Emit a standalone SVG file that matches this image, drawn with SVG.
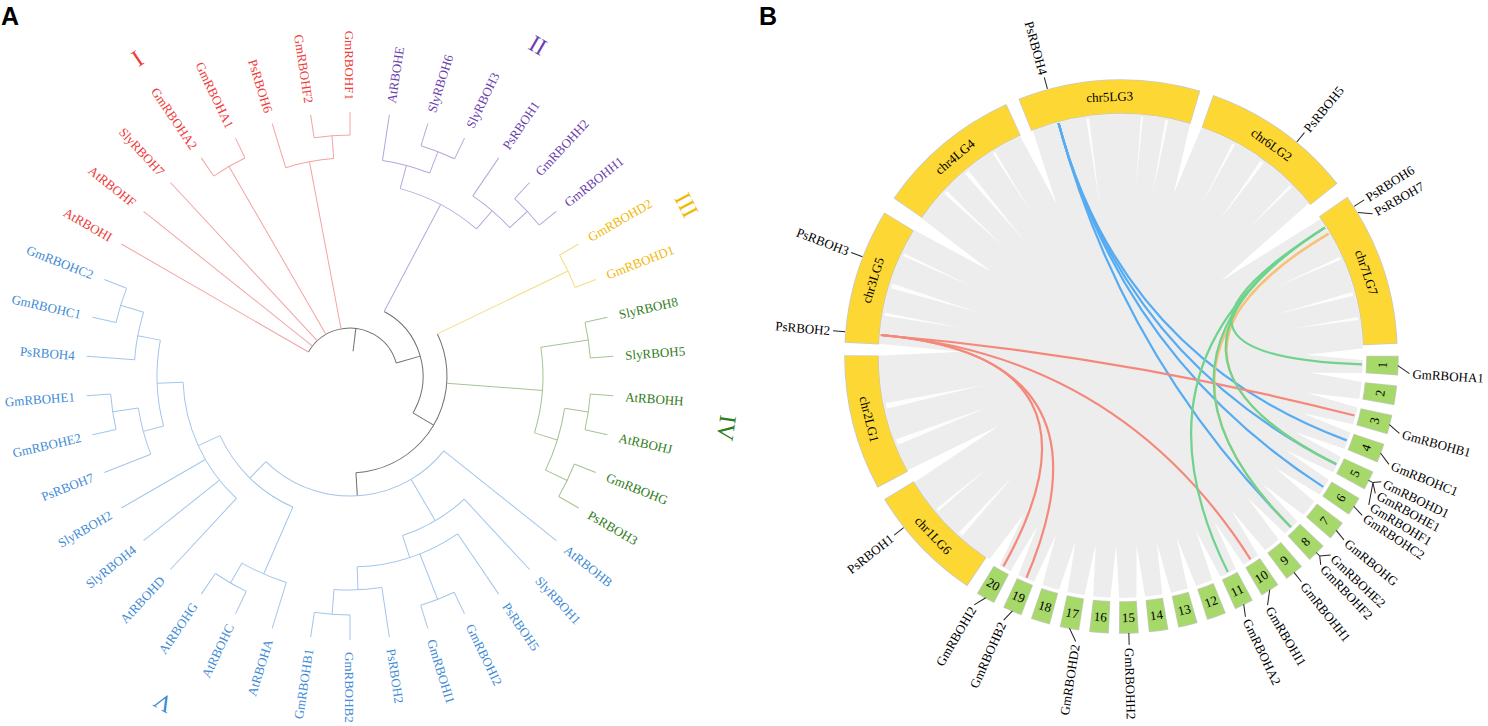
<svg xmlns="http://www.w3.org/2000/svg" width="1488" height="726" viewBox="0 0 1488 726">
<style>
.lab{font-family:"Liberation Serif","Times New Roman",serif;font-size:13px}
.num{font-family:"Liberation Serif","Times New Roman",serif;font-size:24px;text-anchor:middle}
.pan{font-family:"Liberation Sans",Arial,sans-serif;font-size:25px;font-weight:bold;fill:#000}
.s{text-anchor:start}
.e{text-anchor:end}
.m{text-anchor:middle}
.t line,.t circle{fill:none;stroke-width:1}
.k{stroke:#707070}
.r{stroke:#f4a3a3}
.p{stroke:#b8a5dc}
.y{stroke:#f3dc86}
.g{stroke:#a4c492}
.b{stroke:#a3c5ea}
.tr{fill:#ef3a3a}
.tp{fill:#6b3fae}
.ty{fill:#f2b705}
.tg{fill:#2f7c20}
.tb{fill:#3f8bd5}
.ol{fill:none;stroke:#c8c8c8;stroke-width:34.6}
.cy{fill:none;stroke:#fdd835;stroke-width:33}
.olb{fill:none;stroke:#c8c8c8;stroke-width:32.5}
.bx{fill:none;stroke:#a6d96a;stroke-width:31}
.wg{fill:#ffffff}
.ws{fill:#ffffff;opacity:0.85}
.lk{fill:none;stroke-width:2.2}
.lb{stroke:#56acf2}
.lr{stroke:#f4897b}
.lg{stroke:#6fd38d}
.lo{stroke:#f7c277}
.tk{fill:none;stroke:#222;stroke-width:1}
</style>

<text class="pan" x="1" y="25">A</text>
<text class="pan" x="759" y="25">B</text>

<!-- ================= PANEL A ================= -->
<g id="panelA" transform="translate(350,376)">
<g id="tree-connectors" class="t">
<line class="k" y1="-25" y2="-48" transform="rotate(7)"/>
<circle class="k" r="48" pathLength="360" stroke-dasharray="134.2 360" transform="rotate(-150)"/>
<line class="k" y1="-48" y2="-73" transform="rotate(74.2)"/>
<circle class="k" r="73" pathLength="360" stroke-dasharray="92.5 360" transform="rotate(-62.1)"/>
<line class="k" y1="-73" y2="-97" transform="rotate(120.4)"/>
<circle class="k" r="97" pathLength="360" stroke-dasharray="112.2 360" transform="rotate(-25.7)"/>
<line class="k" y1="-97" y2="-120" transform="rotate(176.5)"/>
<line class="r" y1="-48" y2="-264" transform="rotate(-60)"/>
<line class="r" y1="-48" y2="-264" transform="rotate(-51.43)"/>
<line class="r" y1="-48" y2="-264" transform="rotate(-42.86)"/>
<line class="r" y1="-48" y2="-242" transform="rotate(-30)"/>
<circle class="r" r="242" pathLength="360" stroke-dasharray="8.58 360" transform="rotate(-124.29)"/>
<line class="r" y1="-242" y2="-264" transform="rotate(-34.29)"/>
<line class="r" y1="-242" y2="-264" transform="rotate(-25.71)"/>
<line class="r" y1="-48" y2="-218" transform="rotate(-10.71)"/>
<circle class="r" r="218" pathLength="360" stroke-dasharray="12.85 360" transform="rotate(-107.14)"/>
<line class="r" y1="-218" y2="-264" transform="rotate(-17.14)"/>
<line class="r" y1="-218" y2="-241" transform="rotate(-4.29)"/>
<circle class="r" r="241" pathLength="360" stroke-dasharray="8.57 360" transform="rotate(-98.57)"/>
<line class="r" y1="-241" y2="-264" transform="rotate(-8.57)"/>
<line class="r" y1="-241" y2="-264" transform="rotate(0)"/>
<line class="p" y1="-73" y2="-194" transform="rotate(27.86)"/>
<circle class="p" r="194" pathLength="360" stroke-dasharray="25.71 360" transform="rotate(-75)"/>
<line class="p" y1="-194" y2="-218" transform="rotate(15)"/>
<circle class="p" r="218" pathLength="360" stroke-dasharray="12.86 360" transform="rotate(-81.43)"/>
<line class="p" y1="-218" y2="-264" transform="rotate(8.57)"/>
<line class="p" y1="-218" y2="-241" transform="rotate(21.43)"/>
<circle class="p" r="241" pathLength="360" stroke-dasharray="8.57 360" transform="rotate(-72.86)"/>
<line class="p" y1="-241" y2="-264" transform="rotate(17.14)"/>
<line class="p" y1="-241" y2="-264" transform="rotate(25.71)"/>
<line class="p" y1="-194" y2="-218" transform="rotate(40.71)"/>
<circle class="p" r="218" pathLength="360" stroke-dasharray="12.85 360" transform="rotate(-55.71)"/>
<line class="p" y1="-218" y2="-264" transform="rotate(34.29)"/>
<line class="p" y1="-218" y2="-242" transform="rotate(47.14)"/>
<circle class="p" r="242" pathLength="360" stroke-dasharray="8.57 360" transform="rotate(-47.14)"/>
<line class="p" y1="-242" y2="-264" transform="rotate(42.86)"/>
<line class="p" y1="-242" y2="-264" transform="rotate(51.43)"/>
<line class="y" y1="-97" y2="-242" transform="rotate(64.29)"/>
<circle class="y" r="242" pathLength="360" stroke-dasharray="8.57 360" transform="rotate(-30)"/>
<line class="y" y1="-242" y2="-264" transform="rotate(60)"/>
<line class="y" y1="-242" y2="-264" transform="rotate(68.57)"/>
<line class="g" y1="-97" y2="-193" transform="rotate(94.29)"/>
<circle class="g" r="193" pathLength="360" stroke-dasharray="25.71 360" transform="rotate(-8.57)"/>
<line class="g" y1="-193" y2="-241" transform="rotate(81.43)"/>
<circle class="g" r="241" pathLength="360" stroke-dasharray="8.57 360" transform="rotate(-12.86)"/>
<line class="g" y1="-241" y2="-264" transform="rotate(77.14)"/>
<line class="g" y1="-241" y2="-264" transform="rotate(85.71)"/>
<line class="g" y1="-193" y2="-217" transform="rotate(107.14)"/>
<circle class="g" r="217" pathLength="360" stroke-dasharray="17.14 360" transform="rotate(8.57)"/>
<line class="g" y1="-217" y2="-241" transform="rotate(98.57)"/>
<circle class="g" r="241" pathLength="360" stroke-dasharray="8.57 360" transform="rotate(4.29)"/>
<line class="g" y1="-241" y2="-264" transform="rotate(94.29)"/>
<line class="g" y1="-241" y2="-264" transform="rotate(102.86)"/>
<line class="g" y1="-217" y2="-241" transform="rotate(115.71)"/>
<circle class="g" r="241" pathLength="360" stroke-dasharray="8.57 360" transform="rotate(21.43)"/>
<line class="g" y1="-241" y2="-264" transform="rotate(111.43)"/>
<line class="g" y1="-241" y2="-264" transform="rotate(120)"/>
<circle class="b" r="120" pathLength="360" stroke-dasharray="95.89 360" transform="rotate(38.57)"/>
<line class="b" y1="-120" y2="-264" transform="rotate(128.57)"/>
<line class="b" y1="-120" y2="-168" transform="rotate(149.46)"/>
<circle class="b" r="168" pathLength="360" stroke-dasharray="24.65 360" transform="rotate(47.14)"/>
<line class="b" y1="-168" y2="-264" transform="rotate(137.14)"/>
<line class="b" y1="-168" y2="-191" transform="rotate(161.79)"/>
<circle class="b" r="191" pathLength="360" stroke-dasharray="32.15 360" transform="rotate(55.71)"/>
<line class="b" y1="-191" y2="-264" transform="rotate(145.71)"/>
<line class="b" y1="-191" y2="-240" transform="rotate(158.57)"/>
<circle class="b" r="240" pathLength="360" stroke-dasharray="8.57 360" transform="rotate(64.29)"/>
<line class="b" y1="-240" y2="-264" transform="rotate(154.29)"/>
<line class="b" y1="-240" y2="-264" transform="rotate(162.86)"/>
<line class="b" y1="-191" y2="-214" transform="rotate(177.86)"/>
<circle class="b" r="214" pathLength="360" stroke-dasharray="12.86 360" transform="rotate(81.43)"/>
<line class="b" y1="-214" y2="-264" transform="rotate(171.43)"/>
<line class="b" y1="-214" y2="-239" transform="rotate(184.29)"/>
<circle class="b" r="239" pathLength="360" stroke-dasharray="8.57 360" transform="rotate(90)"/>
<line class="b" y1="-239" y2="-264" transform="rotate(180)"/>
<line class="b" y1="-239" y2="-264" transform="rotate(188.57)"/>
<line class="b" y1="-120" y2="-143" transform="rotate(224.46)"/>
<circle class="b" r="143" pathLength="360" stroke-dasharray="41.79 360" transform="rotate(113.57)"/>
<line class="b" y1="-143" y2="-216" transform="rotate(203.57)"/>
<circle class="b" r="216" pathLength="360" stroke-dasharray="12.86 360" transform="rotate(107.14)"/>
<line class="b" y1="-216" y2="-264" transform="rotate(197.14)"/>
<line class="b" y1="-216" y2="-239" transform="rotate(210)"/>
<circle class="b" r="239" pathLength="360" stroke-dasharray="8.58 360" transform="rotate(115.71)"/>
<line class="b" y1="-239" y2="-264" transform="rotate(205.71)"/>
<line class="b" y1="-239" y2="-264" transform="rotate(214.29)"/>
<line class="b" y1="-143" y2="-167" transform="rotate(245.36)"/>
<circle class="b" r="167" pathLength="360" stroke-dasharray="45 360" transform="rotate(132.86)"/>
<line class="b" y1="-167" y2="-264" transform="rotate(222.86)"/>
<line class="b" y1="-167" y2="-264" transform="rotate(231.43)"/>
<line class="b" y1="-167" y2="-264" transform="rotate(240)"/>
<line class="b" y1="-167" y2="-193" transform="rotate(267.86)"/>
<circle class="b" r="193" pathLength="360" stroke-dasharray="25.71 360" transform="rotate(165)"/>
<line class="b" y1="-193" y2="-214" transform="rotate(255)"/>
<circle class="b" r="214" pathLength="360" stroke-dasharray="12.86 360" transform="rotate(158.57)"/>
<line class="b" y1="-214" y2="-264" transform="rotate(248.57)"/>
<line class="b" y1="-214" y2="-240" transform="rotate(261.43)"/>
<circle class="b" r="240" pathLength="360" stroke-dasharray="8.57 360" transform="rotate(167.14)"/>
<line class="b" y1="-240" y2="-264" transform="rotate(257.14)"/>
<line class="b" y1="-240" y2="-264" transform="rotate(265.71)"/>
<line class="b" y1="-193" y2="-216" transform="rotate(280.71)"/>
<circle class="b" r="216" pathLength="360" stroke-dasharray="12.85 360" transform="rotate(184.29)"/>
<line class="b" y1="-216" y2="-264" transform="rotate(274.29)"/>
<line class="b" y1="-216" y2="-240" transform="rotate(287.14)"/>
<circle class="b" r="240" pathLength="360" stroke-dasharray="8.57 360" transform="rotate(192.86)"/>
<line class="b" y1="-240" y2="-264" transform="rotate(282.86)"/>
<line class="b" y1="-240" y2="-264" transform="rotate(291.43)"/>
</g>

<g id="leaf-labels" class="lab">
<text id="leaf-GmRBOHF1" class="tr e" dy="0.35em" transform="rotate(0) translate(0,-276) rotate(90)">GmRBOHF1</text>
<text id="leaf-AtRBOHE" class="tp s" dy="0.35em" transform="rotate(8.57) translate(0,-276) rotate(-90)">AtRBOHE</text>
<text id="leaf-SlyRBOH6" class="tp s" dy="0.35em" transform="rotate(17.14) translate(0,-276) rotate(-90)">SlyRBOH6</text>
<text id="leaf-SlyRBOH3" class="tp s" dy="0.35em" transform="rotate(25.71) translate(0,-276) rotate(-90)">SlyRBOH3</text>
<text id="leaf-PsRBOH1" class="tp s" dy="0.35em" transform="rotate(34.29) translate(0,-276) rotate(-90)">PsRBOH1</text>
<text id="leaf-GmRBOHH2" class="tp s" dy="0.35em" transform="rotate(42.86) translate(0,-276) rotate(-90)">GmRBOHH2</text>
<text id="leaf-GmRBOHH1" class="tp s" dy="0.35em" transform="rotate(51.43) translate(0,-276) rotate(-90)">GmRBOHH1</text>
<text id="leaf-GmRBOHD2" class="ty s" dy="0.35em" transform="rotate(60) translate(0,-276) rotate(-90)">GmRBOHD2</text>
<text id="leaf-GmRBOHD1" class="ty s" dy="0.35em" transform="rotate(68.57) translate(0,-276) rotate(-90)">GmRBOHD1</text>
<text id="leaf-SlyRBOH8" class="tg s" dy="0.35em" transform="rotate(77.14) translate(0,-276) rotate(-90)">SlyRBOH8</text>
<text id="leaf-SlyRBOH5" class="tg s" dy="0.35em" transform="rotate(85.71) translate(0,-276) rotate(-90)">SlyRBOH5</text>
<text id="leaf-AtRBOHH" class="tg s" dy="0.35em" transform="rotate(94.29) translate(0,-276) rotate(-90)">AtRBOHH</text>
<text id="leaf-AtRBOHJ" class="tg s" dy="0.35em" transform="rotate(102.86) translate(0,-276) rotate(-90)">AtRBOHJ</text>
<text id="leaf-GmRBOHG" class="tg s" dy="0.35em" transform="rotate(111.43) translate(0,-276) rotate(-90)">GmRBOHG</text>
<text id="leaf-PsRBOH3" class="tg s" dy="0.35em" transform="rotate(120) translate(0,-276) rotate(-90)">PsRBOH3</text>
<text id="leaf-AtRBOHB" class="tb s" dy="0.35em" transform="rotate(128.57) translate(0,-276) rotate(-90)">AtRBOHB</text>
<text id="leaf-SlyRBOH1" class="tb s" dy="0.35em" transform="rotate(137.14) translate(0,-276) rotate(-90)">SlyRBOH1</text>
<text id="leaf-PsRBOH5" class="tb s" dy="0.35em" transform="rotate(145.71) translate(0,-276) rotate(-90)">PsRBOH5</text>
<text id="leaf-GmRBOHI2" class="tb s" dy="0.35em" transform="rotate(154.29) translate(0,-276) rotate(-90)">GmRBOHI2</text>
<text id="leaf-GmRBOHI1" class="tb s" dy="0.35em" transform="rotate(162.86) translate(0,-276) rotate(-90)">GmRBOHI1</text>
<text id="leaf-PsRBOH2" class="tb s" dy="0.35em" transform="rotate(171.43) translate(0,-276) rotate(-90)">PsRBOH2</text>
<text id="leaf-GmRBOHB2" class="tb s" dy="0.35em" transform="rotate(180) translate(0,-276) rotate(-90)">GmRBOHB2</text>
<text id="leaf-GmRBOHB1" class="tb e" dy="0.35em" transform="rotate(188.57) translate(0,-276) rotate(90)">GmRBOHB1</text>
<text id="leaf-AtRBOHA" class="tb e" dy="0.35em" transform="rotate(197.14) translate(0,-276) rotate(90)">AtRBOHA</text>
<text id="leaf-AtRBOHC" class="tb e" dy="0.35em" transform="rotate(205.71) translate(0,-276) rotate(90)">AtRBOHC</text>
<text id="leaf-AtRBOHG" class="tb e" dy="0.35em" transform="rotate(214.29) translate(0,-276) rotate(90)">AtRBOHG</text>
<text id="leaf-AtRBOHD" class="tb e" dy="0.35em" transform="rotate(222.86) translate(0,-276) rotate(90)">AtRBOHD</text>
<text id="leaf-SlyRBOH4" class="tb e" dy="0.35em" transform="rotate(231.43) translate(0,-276) rotate(90)">SlyRBOH4</text>
<text id="leaf-SlyRBOH2" class="tb e" dy="0.35em" transform="rotate(240) translate(0,-276) rotate(90)">SlyRBOH2</text>
<text id="leaf-PsRBOH7" class="tb e" dy="0.35em" transform="rotate(248.57) translate(0,-276) rotate(90)">PsRBOH7</text>
<text id="leaf-GmRBOHE2" class="tb e" dy="0.35em" transform="rotate(257.14) translate(0,-276) rotate(90)">GmRBOHE2</text>
<text id="leaf-GmRBOHE1" class="tb e" dy="0.35em" transform="rotate(265.71) translate(0,-276) rotate(90)">GmRBOHE1</text>
<text id="leaf-PsRBOH4" class="tb e" dy="0.35em" transform="rotate(274.29) translate(0,-276) rotate(90)">PsRBOH4</text>
<text id="leaf-GmRBOHC1" class="tb e" dy="0.35em" transform="rotate(282.86) translate(0,-276) rotate(90)">GmRBOHC1</text>
<text id="leaf-GmRBOHC2" class="tb e" dy="0.35em" transform="rotate(291.43) translate(0,-276) rotate(90)">GmRBOHC2</text>
<text id="leaf-AtRBOHI" class="tr e" dy="0.35em" transform="rotate(300) translate(0,-276) rotate(90)">AtRBOHI</text>
<text id="leaf-AtRBOHF" class="tr e" dy="0.35em" transform="rotate(308.57) translate(0,-276) rotate(90)">AtRBOHF</text>
<text id="leaf-SlyRBOH7" class="tr e" dy="0.35em" transform="rotate(317.14) translate(0,-276) rotate(90)">SlyRBOH7</text>
<text id="leaf-GmRBOHA2" class="tr e" dy="0.35em" transform="rotate(325.71) translate(0,-276) rotate(90)">GmRBOHA2</text>
<text id="leaf-GmRBOHA1" class="tr e" dy="0.35em" transform="rotate(334.29) translate(0,-276) rotate(90)">GmRBOHA1</text>
<text id="leaf-PsRBOH6" class="tr e" dy="0.35em" transform="rotate(342.86) translate(0,-276) rotate(90)">PsRBOH6</text>
<text id="leaf-GmRBOHF2" class="tr e" dy="0.35em" transform="rotate(351.43) translate(0,-276) rotate(90)">GmRBOHF2</text>
</g>
</g>

<g id="group-labels">
<text class="num tr" x="137" y="58" dy="0.35em" transform="rotate(-34 137 58)">I</text>
<text class="num tp" x="538" y="45" dy="0.35em" transform="rotate(30 538 45)">II</text>
<text class="num ty" x="687" y="205" dy="0.35em" transform="rotate(63 687 205)">III</text>
<text class="num tg" x="727" y="428" dy="0.35em" transform="rotate(98 727 428)">IV</text>
<text class="num tb" x="163" y="703" dy="0.35em" transform="rotate(209.5 163 703)">V</text>
</g>

<!-- ================= PANEL B ================= -->
<g id="ribbons" transform="translate(1121,356)">
<circle r="242" fill="#ededed"/>
<path class="wg" d="M-7,-243L7,-243L0,-165Z" transform="rotate(337)"/>
<path class="wg" d="M-7,-243L7,-243L0,-155Z" transform="rotate(303)"/>
<path class="wg" d="M-6,-243L6,-243L0,-170Z" transform="rotate(18)"/>
<path class="wg" d="M-10,-243L10,-243L0,-125Z" transform="rotate(53.2)"/>
<path class="wg" d="M-6,-243L6,-243L0,-185Z" transform="rotate(89.6)"/>
<path class="wg" d="M-6,-243L6,-243L0,-185Z" transform="rotate(211.5)"/>
<path class="wg" d="M-7,-243L7,-243L0,-140Z" transform="rotate(240.2)"/>
<path class="wg" d="M-6,-243L6,-243L0,-160Z" transform="rotate(271.5)"/>
<path class="wg" d="M-4.5,-243L4.5,-243L0,-190Z" transform="rotate(95.09)"/>
<path class="wg" d="M-4.5,-243L4.5,-243L0,-190Z" transform="rotate(101.26)"/>
<path class="wg" d="M-4.5,-243L4.5,-243L0,-190Z" transform="rotate(107.43)"/>
<path class="wg" d="M-4.5,-243L4.5,-243L0,-190Z" transform="rotate(113.6)"/>
<path class="wg" d="M-4.5,-243L4.5,-243L0,-190Z" transform="rotate(119.77)"/>
<path class="wg" d="M-4.5,-243L4.5,-243L0,-190Z" transform="rotate(125.94)"/>
<path class="wg" d="M-4.5,-243L4.5,-243L0,-190Z" transform="rotate(132.11)"/>
<path class="wg" d="M-4.5,-243L4.5,-243L0,-190Z" transform="rotate(138.28)"/>
<path class="wg" d="M-4.5,-243L4.5,-243L0,-190Z" transform="rotate(144.45)"/>
<path class="wg" d="M-4.5,-243L4.5,-243L0,-190Z" transform="rotate(150.62)"/>
<path class="wg" d="M-4.5,-243L4.5,-243L0,-190Z" transform="rotate(156.79)"/>
<path class="wg" d="M-4.5,-243L4.5,-243L0,-190Z" transform="rotate(162.96)"/>
<path class="wg" d="M-4.5,-243L4.5,-243L0,-190Z" transform="rotate(169.13)"/>
<path class="wg" d="M-4.5,-243L4.5,-243L0,-190Z" transform="rotate(175.3)"/>
<path class="wg" d="M-4.5,-243L4.5,-243L0,-190Z" transform="rotate(181.47)"/>
<path class="wg" d="M-4.5,-243L4.5,-243L0,-190Z" transform="rotate(187.64)"/>
<path class="wg" d="M-4.5,-243L4.5,-243L0,-190Z" transform="rotate(193.81)"/>
<path class="wg" d="M-4.5,-243L4.5,-243L0,-190Z" transform="rotate(199.98)"/>
<path class="wg" d="M-4.5,-243L4.5,-243L0,-190Z" transform="rotate(206.15)"/>
<path class="ws" d="M-1.5,-240L1.5,-240L0,-150Z" transform="rotate(-8)"/>
<path class="ws" d="M-1,-240L1,-240L0,-170Z" transform="rotate(5)"/>
<path class="ws" d="M-1.5,-240L1.5,-240L0,-160Z" transform="rotate(11)"/>
<path class="ws" d="M-1.5,-240L1.5,-240L0,-175Z" transform="rotate(28)"/>
<path class="ws" d="M-2,-240L2,-240L0,-165Z" transform="rotate(36)"/>
<path class="ws" d="M-1.5,-240L1.5,-240L0,-180Z" transform="rotate(45)"/>
<path class="ws" d="M-1.5,-240L1.5,-240L0,-170Z" transform="rotate(66)"/>
<path class="ws" d="M-2,-240L2,-240L0,-160Z" transform="rotate(75)"/>
<path class="ws" d="M-1.5,-240L1.5,-240L0,-175Z" transform="rotate(81)"/>
<path class="ws" d="M-2.5,-240L2.5,-240L0,-160Z" transform="rotate(222)"/>
<path class="ws" d="M-1.5,-240L1.5,-240L0,-170Z" transform="rotate(230)"/>
<path class="ws" d="M-3,-240L3,-240L0,-140Z" transform="rotate(249)"/>
<path class="ws" d="M-3,-240L3,-240L0,-140Z" transform="rotate(258)"/>
<path class="ws" d="M-1.5,-240L1.5,-240L0,-160Z" transform="rotate(280)"/>
<path class="ws" d="M-2.5,-240L2.5,-240L0,-150Z" transform="rotate(287)"/>
<path class="ws" d="M-1.5,-240L1.5,-240L0,-165Z" transform="rotate(295)"/>
<path class="ws" d="M-2,-240L2,-240L0,-160Z" transform="rotate(313)"/>
<path class="ws" d="M-2.5,-240L2.5,-240L0,-150Z" transform="rotate(320)"/>
<path class="ws" d="M-1.5,-240L1.5,-240L0,-170Z" transform="rotate(328)"/>
</g>

<g id="links">
<path class="lk lb" d="M1058.6,123.2 Q1121,356 1346.7,440.4"/>
<path class="lk lb" d="M1058.6,123.2 Q1121,356 1336.3,464.3"/>
<path class="lk lb" d="M1058.6,123.2 Q1121,356 1323.3,486.9"/>
<path class="lk lb" d="M1058.6,123.2 Q1121,356 1290.8,527.0"/>
<path class="lk lr" d="M880.9,335 Q1121,356 1354.5,415.5"/>
<path class="lk lr" d="M880.9,335 Q1121,356 1250.5,559.3"/>
<path class="lk lr" d="M880.9,335 Q1121,356 1026.5,577.7"/>
<path class="lk lr" d="M880.9,335 Q1121,356 1003.4,566.4"/>
<path class="lk lo" d="M1328.6,233.7 Q1121,356 1336.3,464.3"/>
<path class="lk lo" d="M1328.6,233.7 Q1121,356 1290.8,527.0"/>
<path class="lk lg" d="M1324.9,227.6 Q1121,356 1361.9,364.4"/>
<path class="lk lg" d="M1324.9,227.6 Q1121,356 1336.3,464.3"/>
<path class="lk lg" d="M1324.9,227.6 Q1121,356 1290.8,527.0"/>
<path class="lk lg" d="M1324.9,227.6 Q1121,356 1227.8,572.1"/>
</g>

<g id="chromosomes" transform="translate(1121,356)" class="lab">
<g id="chr5LG3"><circle class="ol" r="259.5" pathLength="360" stroke-dasharray="38.4 360" transform="rotate(-111.75)"/><circle class="cy" r="259.5" pathLength="360" stroke-dasharray="38.1 360" transform="rotate(-111.6)"/><text class="m" dy="0.35em" transform="rotate(-2.5) translate(0,-259.5)">chr5LG3</text></g>
<g id="chr6LG2"><circle class="ol" r="259.5" pathLength="360" stroke-dasharray="32 360" transform="rotate(-70.55)"/><circle class="cy" r="259.5" pathLength="360" stroke-dasharray="31.7 360" transform="rotate(-70.4)"/><text class="m" dy="0.35em" transform="rotate(35.5) translate(0,-259.5)">chr6LG2</text></g>
<g id="chr7LG7"><circle class="ol" r="259.5" pathLength="360" stroke-dasharray="32.6 360" transform="rotate(-35.15)"/><circle class="cy" r="259.5" pathLength="360" stroke-dasharray="32.3 360" transform="rotate(-35)"/><text class="m" dy="0.35em" transform="rotate(71.2) translate(0,-259.5)">chr7LG7</text></g>
<g id="chr1LG6"><circle class="ol" r="259.5" pathLength="360" stroke-dasharray="25.1 360" transform="rotate(123.75)"/><circle class="cy" r="259.5" pathLength="360" stroke-dasharray="24.8 360" transform="rotate(123.9)"/><text class="m" dy="0.35em" transform="rotate(226.3) translate(0,-259.5) rotate(180)">chr1LG6</text></g>
<g id="chr2LG1"><circle class="ol" r="259.5" pathLength="360" stroke-dasharray="28.6 360" transform="rotate(151.55)"/><circle class="cy" r="259.5" pathLength="360" stroke-dasharray="28.3 360" transform="rotate(151.7)"/><text class="m" dy="0.35em" transform="rotate(255.9) translate(0,-259.5) rotate(180)">chr2LG1</text></g>
<g id="chr3LG5"><circle class="ol" r="259.5" pathLength="360" stroke-dasharray="28.5 360" transform="rotate(182.75)"/><circle class="cy" r="259.5" pathLength="360" stroke-dasharray="28.2 360" transform="rotate(182.9)"/><text class="m" dy="0.35em" transform="rotate(287) translate(0,-259.5)">chr3LG5</text></g>
<g id="chr4LG4"><circle class="ol" r="259.5" pathLength="360" stroke-dasharray="30.8 360" transform="rotate(214.75)"/><circle class="cy" r="259.5" pathLength="360" stroke-dasharray="30.5 360" transform="rotate(214.9)"/><text class="m" dy="0.35em" transform="rotate(320.2) translate(0,-259.5)">chr4LG4</text></g>
</g>

<g id="scaffolds" transform="translate(1121,356)" class="lab">
<g id="s1"><circle class="olb" r="261.5" pathLength="360" stroke-dasharray="4.1 360" transform="rotate(-0.05)"/><circle class="bx" r="261.5" pathLength="360" stroke-dasharray="3.8 360" transform="rotate(0.1)"/><text class="m" dy="0.35em" transform="rotate(92) translate(0,-261.5) rotate(180)">1</text></g>
<g id="s2"><circle class="olb" r="261.5" pathLength="360" stroke-dasharray="4.1 360" transform="rotate(6.12)"/><circle class="bx" r="261.5" pathLength="360" stroke-dasharray="3.8 360" transform="rotate(6.27)"/><text class="m" dy="0.35em" transform="rotate(98.17) translate(0,-261.5) rotate(180)">2</text></g>
<g id="s3"><circle class="olb" r="261.5" pathLength="360" stroke-dasharray="4.1 360" transform="rotate(12.29)"/><circle class="bx" r="261.5" pathLength="360" stroke-dasharray="3.8 360" transform="rotate(12.44)"/><text class="m" dy="0.35em" transform="rotate(104.34) translate(0,-261.5) rotate(180)">3</text></g>
<g id="s4"><circle class="olb" r="261.5" pathLength="360" stroke-dasharray="4.1 360" transform="rotate(18.46)"/><circle class="bx" r="261.5" pathLength="360" stroke-dasharray="3.8 360" transform="rotate(18.61)"/><text class="m" dy="0.35em" transform="rotate(110.51) translate(0,-261.5) rotate(180)">4</text></g>
<g id="s5"><circle class="olb" r="261.5" pathLength="360" stroke-dasharray="4.1 360" transform="rotate(24.63)"/><circle class="bx" r="261.5" pathLength="360" stroke-dasharray="3.8 360" transform="rotate(24.78)"/><text class="m" dy="0.35em" transform="rotate(116.68) translate(0,-261.5) rotate(180)">5</text></g>
<g id="s6"><circle class="olb" r="261.5" pathLength="360" stroke-dasharray="4.1 360" transform="rotate(30.8)"/><circle class="bx" r="261.5" pathLength="360" stroke-dasharray="3.8 360" transform="rotate(30.95)"/><text class="m" dy="0.35em" transform="rotate(122.85) translate(0,-261.5) rotate(180)">6</text></g>
<g id="s7"><circle class="olb" r="261.5" pathLength="360" stroke-dasharray="4.1 360" transform="rotate(36.97)"/><circle class="bx" r="261.5" pathLength="360" stroke-dasharray="3.8 360" transform="rotate(37.12)"/><text class="m" dy="0.35em" transform="rotate(129.02) translate(0,-261.5) rotate(180)">7</text></g>
<g id="s8"><circle class="olb" r="261.5" pathLength="360" stroke-dasharray="4.1 360" transform="rotate(43.14)"/><circle class="bx" r="261.5" pathLength="360" stroke-dasharray="3.8 360" transform="rotate(43.29)"/><text class="m" dy="0.35em" transform="rotate(135.19) translate(0,-261.5) rotate(180)">8</text></g>
<g id="s9"><circle class="olb" r="261.5" pathLength="360" stroke-dasharray="4.1 360" transform="rotate(49.31)"/><circle class="bx" r="261.5" pathLength="360" stroke-dasharray="3.8 360" transform="rotate(49.46)"/><text class="m" dy="0.35em" transform="rotate(141.36) translate(0,-261.5) rotate(180)">9</text></g>
<g id="s10"><circle class="olb" r="261.5" pathLength="360" stroke-dasharray="4.1 360" transform="rotate(55.48)"/><circle class="bx" r="261.5" pathLength="360" stroke-dasharray="3.8 360" transform="rotate(55.63)"/><text class="m" dy="0.35em" transform="rotate(147.53) translate(0,-261.5) rotate(180)">10</text></g>
<g id="s11"><circle class="olb" r="261.5" pathLength="360" stroke-dasharray="4.1 360" transform="rotate(61.65)"/><circle class="bx" r="261.5" pathLength="360" stroke-dasharray="3.8 360" transform="rotate(61.8)"/><text class="m" dy="0.35em" transform="rotate(153.7) translate(0,-261.5) rotate(180)">11</text></g>
<g id="s12"><circle class="olb" r="261.5" pathLength="360" stroke-dasharray="4.1 360" transform="rotate(67.82)"/><circle class="bx" r="261.5" pathLength="360" stroke-dasharray="3.8 360" transform="rotate(67.97)"/><text class="m" dy="0.35em" transform="rotate(159.87) translate(0,-261.5) rotate(180)">12</text></g>
<g id="s13"><circle class="olb" r="261.5" pathLength="360" stroke-dasharray="4.1 360" transform="rotate(73.99)"/><circle class="bx" r="261.5" pathLength="360" stroke-dasharray="3.8 360" transform="rotate(74.14)"/><text class="m" dy="0.35em" transform="rotate(166.04) translate(0,-261.5) rotate(180)">13</text></g>
<g id="s14"><circle class="olb" r="261.5" pathLength="360" stroke-dasharray="4.1 360" transform="rotate(80.16)"/><circle class="bx" r="261.5" pathLength="360" stroke-dasharray="3.8 360" transform="rotate(80.31)"/><text class="m" dy="0.35em" transform="rotate(172.21) translate(0,-261.5) rotate(180)">14</text></g>
<g id="s15"><circle class="olb" r="261.5" pathLength="360" stroke-dasharray="4.1 360" transform="rotate(86.33)"/><circle class="bx" r="261.5" pathLength="360" stroke-dasharray="3.8 360" transform="rotate(86.48)"/><text class="m" dy="0.35em" transform="rotate(178.38) translate(0,-261.5) rotate(180)">15</text></g>
<g id="s16"><circle class="olb" r="261.5" pathLength="360" stroke-dasharray="4.1 360" transform="rotate(92.5)"/><circle class="bx" r="261.5" pathLength="360" stroke-dasharray="3.8 360" transform="rotate(92.65)"/><text class="m" dy="0.35em" transform="rotate(184.55) translate(0,-261.5) rotate(180)">16</text></g>
<g id="s17"><circle class="olb" r="261.5" pathLength="360" stroke-dasharray="4.1 360" transform="rotate(98.67)"/><circle class="bx" r="261.5" pathLength="360" stroke-dasharray="3.8 360" transform="rotate(98.82)"/><text class="m" dy="0.35em" transform="rotate(190.72) translate(0,-261.5) rotate(180)">17</text></g>
<g id="s18"><circle class="olb" r="261.5" pathLength="360" stroke-dasharray="4.1 360" transform="rotate(104.84)"/><circle class="bx" r="261.5" pathLength="360" stroke-dasharray="3.8 360" transform="rotate(104.99)"/><text class="m" dy="0.35em" transform="rotate(196.89) translate(0,-261.5) rotate(180)">18</text></g>
<g id="s19"><circle class="olb" r="261.5" pathLength="360" stroke-dasharray="4.1 360" transform="rotate(111.01)"/><circle class="bx" r="261.5" pathLength="360" stroke-dasharray="3.8 360" transform="rotate(111.16)"/><text class="m" dy="0.35em" transform="rotate(203.06) translate(0,-261.5) rotate(180)">19</text></g>
<g id="s20"><circle class="olb" r="261.5" pathLength="360" stroke-dasharray="4.1 360" transform="rotate(117.18)"/><circle class="bx" r="261.5" pathLength="360" stroke-dasharray="3.8 360" transform="rotate(117.33)"/><text class="m" dy="0.35em" transform="rotate(209.23) translate(0,-261.5) rotate(180)">20</text></g>
</g>

<g id="gene-labels" transform="translate(1121,356)" class="lab">
<g id="ticks">
<path class="tk" d="M0,-277L0,-289" transform="rotate(-15.4)"/>
<path class="tk" d="M0,-277L0,-289" transform="rotate(39.4)"/>
<path class="tk" d="M0,-277L0,-289" transform="rotate(57.3)"/>
<path class="tk" d="M0,-277L8.6,-288.9" transform="rotate(58.8)"/>
<path class="tk" d="M0,-277L0,-289" transform="rotate(291)"/>
<path class="tk" d="M0,-277L0,-289" transform="rotate(275)"/>
<path class="tk" d="M0,-277L0,-289" transform="rotate(231.7)"/>
<path class="tk" d="M0,-277L7.6,-288.9" transform="rotate(92)"/>
<path class="tk" d="M0,-277L6.1,-288.9" transform="rotate(104.34)"/>
<path class="tk" d="M0,-277L7.6,-288.9" transform="rotate(110.51)"/>
<path class="tk" d="M0,-277L0,-282M0,-282L-4.5,-289M0,-282L8.6,-288.9M0,-282L21.7,-288.2" transform="rotate(116.68)"/>
<path class="tk" d="M0,-277L3,-289" transform="rotate(122.85)"/>
<path class="tk" d="M0,-277L2.5,-289" transform="rotate(129.02)"/>
<path class="tk" d="M0,-277L0,-282L-8.6,-288.9M0,-282L5.5,-288.9" transform="rotate(135.19)"/>
<path class="tk" d="M0,-277L0,-289" transform="rotate(141.36)"/>
<path class="tk" d="M0,-277L10.1,-288.8" transform="rotate(147.53)"/>
<path class="tk" d="M0,-277L4,-289" transform="rotate(153.7)"/>
<path class="tk" d="M0,-277L0,-289" transform="rotate(178.38)"/>
<path class="tk" d="M0,-277L-8.6,-288.9" transform="rotate(190.72)"/>
<path class="tk" d="M0,-277L4.5,-289" transform="rotate(203.06)"/>
<path class="tk" d="M0,-277L6.6,-288.9" transform="rotate(209.23)"/>
</g>
<text class="e" dy="0.35em" transform="rotate(-15.4) translate(0,-292) rotate(90)">PsRBOH4</text>
<text class="s" dy="0.35em" transform="rotate(39.4) translate(0,-292) rotate(-90)">PsRBOH5</text>
<text class="s" dy="0.35em" transform="rotate(57.3) translate(0,-292) rotate(-90)">PsRBOH6</text>
<text class="s" dy="0.35em" transform="rotate(60.5) translate(0,-292) rotate(-90)">PsRBOH7</text>
<text class="e" dy="0.35em" transform="rotate(291) translate(0,-292) rotate(90)">PsRBOH3</text>
<text class="e" dy="0.35em" transform="rotate(275) translate(0,-292) rotate(90)">PsRBOH2</text>
<text class="e" dy="0.35em" transform="rotate(231.7) translate(0,-292) rotate(90)">PsRBOH1</text>
<text class="s" dy="0.35em" transform="rotate(93.5) translate(0,-292) rotate(-90)">GmRBOHA1</text>
<text class="s" dy="0.35em" transform="rotate(105.5) translate(0,-292) rotate(-90)">GmRBOHB1</text>
<text class="s" dy="0.35em" transform="rotate(112) translate(0,-292) rotate(-90)">GmRBOHC1</text>
<text class="s" dy="0.35em" transform="rotate(115.8) translate(0,-292) rotate(-90)">GmRBOHD1</text>
<text class="s" dy="0.35em" transform="rotate(118.4) translate(0,-292) rotate(-90)">GmRBOHE1</text>
<text class="s" dy="0.35em" transform="rotate(121) translate(0,-292) rotate(-90)">GmRBOHF1</text>
<text class="s" dy="0.35em" transform="rotate(123.5) translate(0,-292) rotate(-90)">GmRBOHC2</text>
<text class="s" dy="0.35em" transform="rotate(129.5) translate(0,-292) rotate(-90)">GmRBOHG</text>
<text class="s" dy="0.35em" transform="rotate(133.5) translate(0,-292) rotate(-90)">GmRBOHE2</text>
<text class="s" dy="0.35em" transform="rotate(136.3) translate(0,-292) rotate(-90)">GmRBOHF2</text>
<text class="s" dy="0.35em" transform="rotate(141.36) translate(0,-292) rotate(-90)">GmRBOHH1</text>
<text class="s" dy="0.35em" transform="rotate(149.5) translate(0,-292) rotate(-90)">GmRBOHI1</text>
<text class="s" dy="0.35em" transform="rotate(154.5) translate(0,-292) rotate(-90)">GmRBOHA2</text>
<text class="s" dy="0.35em" transform="rotate(178.38) translate(0,-292) rotate(-90)">GmRBOHH2</text>
<text class="e" dy="0.35em" transform="rotate(189) translate(0,-292) rotate(90)">GmRBOHD2</text>
<text class="e" dy="0.35em" transform="rotate(204) translate(0,-292) rotate(90)">GmRBOHB2</text>
<text class="e" dy="0.35em" transform="rotate(210.5) translate(0,-292) rotate(90)">GmRBOHI2</text>
</g>
</svg>
